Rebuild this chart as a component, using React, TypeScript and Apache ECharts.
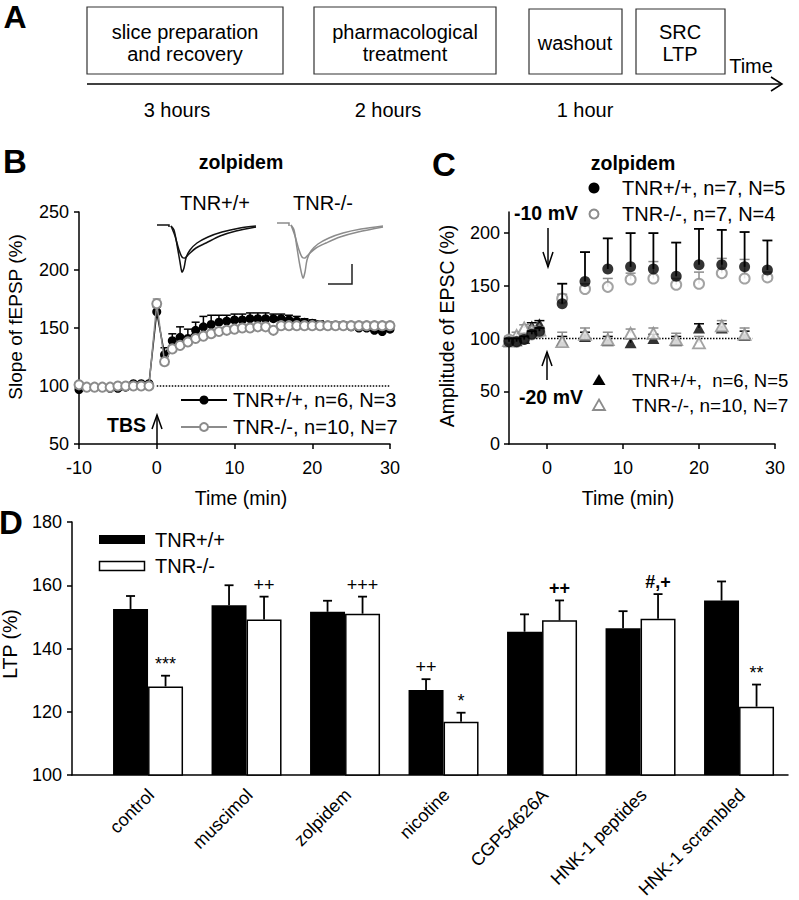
import React, { useEffect, useRef } from 'react';
import * as echarts from 'echarts';

const FONT = '"Liberation Sans", Arial, Helvetica, sans-serif';
const GREY = '#8c8c8c';

// ---------- Panel B : slope of fEPSP (%) vs time (min)
const bTime = [-10, -9, -8, -7, -6, -5, -4, -3, -2, -1, 0, 1, 2, 3, 4, 5, 6, 7, 8, 9, 10, 11, 12, 13, 14, 15, 16, 17, 18, 19, 20, 21, 22, 23, 24, 25, 26, 27, 28, 29, 30];
const bWT = [97, 99, 99, 99, 98, 98, 99, 102, 102, 102, 164, 127, 139, 142, 141, 148, 151, 153, 155, 156, 157, 157, 158, 158, 158, 158, 158, 157, 156, 155, 154, 153, 152, 152, 152, 151, 150, 150, 148, 147, 149];
const bWTErr = [1, 1, 1, 1, 1, 1, 1, 1, 1, 1, 4, 6, 6, 9, 8, 7, 9, 8, 6, 5, 5, 5, 5, 5, 5, 4, 4, 4, 4, 3, 3, 3, 3, 3, 3, 3, 3, 3, 3, 3, 3];
const bKO = [101, 99, 99, 99, 99, 100, 100, 100, 100, 100, 171, 121, 132, 135, 138, 141, 143, 145, 147, 148, 149, 150, 150, 151, 151, 148, 152, 152, 152, 152, 152, 152, 152, 152, 152, 152, 152, 152, 152, 152, 152];
const bKOErr = [1, 1, 1, 1, 1, 1, 1, 1, 1, 1, 4, 4, 3, 3, 3, 3, 3, 3, 3, 3, 3, 3, 3, 3, 3, 3, 3, 3, 3, 3, 3, 3, 3, 3, 3, 3, 3, 3, 3, 3, 3];

// ---------- Panel C : amplitude of EPSC (%) vs time (min)
const cTimeBase = [-5, -4, -3, -2, -1];
const cTimeCircle = [2, 5, 8, 11, 14, 17, 20, 23, 26, 29];
const cTimeTri = [2, 5, 8, 11, 14, 17, 20, 23, 26];
const cWT10Base = [97, 97, 99, 104, 107];
const cKO10Base = [99, 97, 100, 104, 106];
const cWT10 = [133, 154, 166, 168, 166, 159, 170, 170, 168, 165];
const cWT10Err = [19, 28, 29, 32, 34, 32, 34, 33, 33, 28];
const cKO10 = [138, 147, 149, 156, 157, 151, 152, 162, 157, 158];
const cKO10Err = [4, 5, 8, 6, 16, 6, 11, 14, 18, 5];
const cWT20Base = [97, 98, 100, 112, 114];
const cKO20Base = [98, 103, 110, 108, 108];
const cWT20 = [98, 102, 98, 96, 100, 98, 110, 110, 103];
const cWT20Err = [4, 4, 4, 4, 4, 4, 4, 4, 4];
const cKO20 = [97, 104, 99, 105, 105, 99, 96, 112, 104];
const cKO20Err = [9, 6, 7, 4, 5, 6, 6, 5, 6];
const cBaseErr = [3, 3, 3, 3, 3];

// ---------- Panel D : LTP (%)
const dCategories = ['control', 'muscimol', 'zolpidem', 'nicotine', 'CGP54626A', 'HNK-1 peptides', 'HNK-1 scrambled'];
const dWT = [152.5, 153.7, 151.6, 126.9, 145.3, 146.4, 155.2];
const dWTErr = [4.1, 6.3, 3.5, 3.4, 5.5, 5.4, 6.0];
const dKO = [128.0, 149.2, 151.0, 116.8, 148.9, 149.4, 121.6];
const dKOErr = [3.4, 7.2, 5.4, 2.9, 6.3, 7.8, 7.0];
const dSigWT = ['', '', '', '++', '', '', ''];
const dSigKO = ['***', '++', '+++', '*', '++', '#,+', '**'];
const dSigKOBold = [false, false, false, false, true, true, false];

const BAR_W = 35;

const errorBars = (color: string, cap: number, lw: number, dx = 0) => (params: any, api: any) => {
  const x = api.value(0);
  const y = api.value(1);
  const e = api.value(2);
  const a = api.coord([x, y]);
  const b = api.coord([x, y + e]);
  return {
    type: 'group',
    children: [
      { type: 'line', shape: { x1: a[0] + dx, y1: a[1], x2: b[0] + dx, y2: b[1] }, style: { stroke: color, lineWidth: lw } },
      { type: 'line', shape: { x1: b[0] + dx - cap, y1: b[1], x2: b[0] + dx + cap, y2: b[1] }, style: { stroke: color, lineWidth: lw } },
    ],
  };
};

const sigText = (labels: string[], dx: number, bold?: boolean[]) => (params: any, api: any) => {
  const s = labels[params.dataIndex];
  if (!s) return null;
  const p = api.coord([api.value(0), api.value(1)]);
  return {
    type: 'text',
    x: p[0] + dx,
    y: p[1] - 3,
    style: {
      text: s, fontSize: 18, fontFamily: FONT, fill: '#000', align: 'center', verticalAlign: 'bottom',
      fontWeight: bold && bold[params.dataIndex] ? 'bold' : 'normal',
    },
  };
};

const categoryLabel = (params: any, api: any) => {
  const p = api.coord([api.value(0), api.value(1)]);
  return {
    type: 'text',
    x: p[0] + 3,
    y: p[1] + 17,
    rotation: Math.PI / 4,
    style: {
      text: dCategories[params.dataIndex], fontSize: 18, fontFamily: FONT, fill: '#000',
      align: 'right', verticalAlign: 'middle',
    },
  };
};

const txt = (text: string, x: number, y: number, o: any = {}) => ({
  type: 'text',
  x,
  y,
  rotation: o.rotation || 0,
  silent: true,
  z: 100,
  style: {
    text,
    fill: o.color || '#000',
    fontSize: o.size || 18,
    fontWeight: o.bold ? 'bold' : 'normal',
    fontFamily: FONT,
    align: o.align || 'center',
    verticalAlign: o.valign || 'middle',
  },
});
const ln = (x1: number, y1: number, x2: number, y2: number, color = '#000', w = 1.5) => ({
  type: 'line', silent: true, z: 100, shape: { x1, y1, x2, y2 }, style: { stroke: color, lineWidth: w },
});
const pl = (points: number[][], color: string, w: number, smooth = 0) => ({
  type: 'polyline', silent: true, z: 100, shape: { points, smooth }, style: { stroke: color, lineWidth: w, fill: null },
});
const box = (x: number, y: number, w: number, h: number) => ({
  type: 'rect', silent: true, z: 100, shape: { x, y, width: w, height: h }, style: { fill: '#fff', stroke: '#333', lineWidth: 1.2 },
});

const axisStyle = (extra: any = {}) => ({
  axisLine: { show: true, onZero: false, lineStyle: { color: '#000', width: 1.5 } },
  axisTick: { show: true, inside: false, length: 5, lineStyle: { color: '#000', width: 1.5 }, ...(extra.axisTick || {}) },
  axisLabel: { color: '#000', fontSize: 18, fontFamily: FONT, ...(extra.axisLabel || {}) },
  splitLine: { show: false },
});

const join = (a: number[], b: number[]) => a.concat(b);

export default function App() {
  const ref = useRef<HTMLDivElement>(null);
  useEffect(() => {
    document.body.style.margin = '0';
    if (!ref.current) return;
    const chart = echarts.init(ref.current, undefined, { renderer: 'svg' });

    const cC10T = join(cTimeBase, cTimeCircle);
    const cT20T = join(cTimeBase, cTimeTri);
    const wt10 = join(cWT10Base, cWT10);
    const wt10e = join(cBaseErr, cWT10Err);
    const ko10 = join(cKO10Base, cKO10);
    const ko10e = join(cBaseErr, cKO10Err);
    const wt20 = join(cWT20Base, cWT20);
    const wt20e = join(cBaseErr, cWT20Err);
    const ko20 = join(cKO20Base, cKO20);
    const ko20e = join(cBaseErr, cKO20Err);

    const graphics: any[] = [
      // panel letters
      txt('A', 15, 1, { size: 32, bold: true, valign: 'top' }),
      txt('B', 15, 161, { size: 33, bold: true }),
      txt('C', 444, 164, { size: 33, bold: true }),
      txt('D', 11, 522, { size: 33, bold: true }),
      // panel A timeline
      box(87, 7, 196, 67),
      box(314, 7, 182, 67),
      box(529, 9, 93, 65),
      box(636, 9, 89, 65),
      txt('slice preparation', 185, 32, { size: 20 }),
      txt('and recovery', 185, 54, { size: 20 }),
      txt('pharmacological', 405, 32, { size: 20 }),
      txt('treatment', 405, 54, { size: 20 }),
      txt('washout', 575, 43, { size: 20 }),
      txt('SRC', 680, 32, { size: 20 }),
      txt('LTP', 680, 54, { size: 20 }),
      txt('Time', 751, 66, { size: 20 }),
      ln(87, 84, 782, 84, '#000', 1.5),
      pl([[771, 77], [782, 84], [771, 91]], '#000', 1.5),
      txt('3 hours', 177, 110, { size: 20 }),
      txt('2 hours', 388, 110, { size: 20 }),
      txt('1 hour', 585, 110, { size: 20 }),
      // panel B annotations
      txt('zolpidem', 241, 162, { size: 19.5, bold: true }),
      txt('TNR+/+', 215, 203, { size: 20 }),
      txt('TNR-/-', 323, 203, { size: 20 }),
      pl([[157, 225], [169, 225], [169, 227]], '#111', 1.5),
      pl([[171, 226], [174, 230], [177, 245], [180, 262], [182, 272], [184, 268], [186, 258], [190, 250], [197, 243], [208, 237], [222, 232], [240, 228], [256, 226]], '#111', 1.5, 0.3),
      pl([[171, 226], [175, 236], [179, 250], [182, 257], [185, 258], [189, 254], [196, 248], [206, 243], [220, 236], [236, 231], [256, 227]], '#111', 1.5, 0.3),
      pl([[277, 223], [289, 223], [289, 226]], GREY, 1.5),
      pl([[291, 225], [294, 230], [297, 248], [300, 266], [303, 278], [305, 272], [307, 260], [311, 251], [318, 244], [329, 238], [343, 233], [361, 229], [383, 226]], GREY, 1.5, 0.3),
      pl([[291, 225], [295, 236], [299, 250], [302, 257], [305, 258], [309, 254], [316, 248], [326, 243], [340, 237], [358, 232], [383, 227]], GREY, 1.5, 0.3),
      pl([[328, 284], [352, 284], [352, 264]], '#222', 1.5),
      txt('TBS', 146, 425, { size: 19.5, bold: true, align: 'right' }),
      ln(157, 444, 157, 415, '#000', 1.5),
      pl([[152, 429], [157, 415], [162, 429]], '#000', 1.5),
      ln(181, 400, 227, 400, '#000', 2),
      { type: 'circle', z: 101, silent: true, shape: { cx: 204, cy: 400, r: 4.5 }, style: { fill: '#000' } },
      txt('TNR+/+, n=6, N=3', 233, 400, { size: 20, align: 'left' }),
      ln(181, 427, 227, 427, GREY, 2),
      { type: 'circle', z: 101, silent: true, shape: { cx: 204, cy: 427, r: 4 }, style: { fill: '#fff', stroke: GREY, lineWidth: 2 } },
      txt('TNR-/-, n=10, N=7', 233, 427, { size: 20, align: 'left' }),
      txt('Slope of fEPSP (%)', 15, 317, { size: 19, rotation: Math.PI / 2 }),
      txt('Time (min)', 241, 498, { size: 19.5 }),
      // panel C annotations
      txt('zolpidem', 633, 163, { size: 19.5, bold: true }),
      { type: 'circle', z: 101, silent: true, shape: { cx: 594, cy: 188, r: 5.5 }, style: { fill: '#000' } },
      txt('TNR+/+, n=7, N=5', 622, 188, { size: 20, align: 'left' }),
      { type: 'circle', z: 101, silent: true, shape: { cx: 594, cy: 214, r: 4.5 }, style: { fill: '#fff', stroke: GREY, lineWidth: 2 } },
      txt('TNR-/-, n=7, N=4', 622, 214, { size: 20, align: 'left' }),
      txt('-10 mV', 546, 213, { size: 19.5, bold: true }),
      ln(548, 228, 548, 267, '#000', 1.5),
      pl([[543, 252], [548, 267], [553, 252]], '#000', 1.5),
      txt('-20 mV', 551, 397, { size: 19.5, bold: true }),
      ln(547, 380, 547, 352, '#000', 1.5),
      pl([[542, 366], [547, 352], [552, 366]], '#000', 1.5),
      { type: 'polygon', z: 101, silent: true, shape: { points: [[599, 374], [605.5, 385], [592.5, 385]] }, style: { fill: '#000' } },
      txt('TNR+/+,  n=6, N=5', 632, 380, { size: 18.5, align: 'left' }),
      { type: 'polygon', z: 101, silent: true, shape: { points: [[599, 399.5], [605, 410], [593, 410]] }, style: { fill: '#fff', stroke: GREY, lineWidth: 1.8 } },
      txt('TNR-/-, n=10, N=7', 632, 405, { size: 19, align: 'left' }),
      txt('Amplitude of EPSC (%)', 447, 326, { size: 19.5, rotation: Math.PI / 2 }),
      txt('Time (min)', 628, 498, { size: 19.5 }),
      // panel D annotations
      { type: 'rect', z: 101, silent: true, shape: { x: 99, y: 535, width: 46, height: 9 }, style: { fill: '#000' } },
      txt('TNR+/+', 155, 540, { size: 20, align: 'left' }),
      { type: 'rect', z: 101, silent: true, shape: { x: 99.5, y: 561.5, width: 45, height: 9 }, style: { fill: '#fff', stroke: '#000', lineWidth: 1.5 } },
      txt('TNR-/-', 155, 566, { size: 20, align: 'left' }),
      txt('LTP (%)', 10, 644, { size: 19.5, rotation: Math.PI / 2 }),
    ];

    const option: any = {
      animation: false,
      backgroundColor: '#fff',
      textStyle: { fontFamily: FONT },
      grid: [
        { left: 79, top: 212, width: 311, height: 232, outerBoundsMode: 'none', containLabel: false },
        { left: 509, top: 212, width: 266, height: 232, outerBoundsMode: 'none', containLabel: false },
        { left: 72, top: 522, width: 716, height: 253, outerBoundsMode: 'none', containLabel: false },
      ],
      xAxis: [
        { gridIndex: 0, type: 'value', min: -10, max: 30, interval: 10, ...axisStyle({ axisLabel: { margin: 15 } }) },
        {
          gridIndex: 1, type: 'value', min: -5, max: 30,
          ...axisStyle({ axisTick: { customValues: [0, 10, 20, 30] }, axisLabel: { margin: 15, customValues: [0, 10, 20, 30] } }),
        },
        {
          gridIndex: 2, type: 'value', min: -0.772, max: 6.497,
          ...axisStyle({ axisTick: { show: false }, axisLabel: { show: false } }),
        },
      ],
      yAxis: [
        { gridIndex: 0, type: 'value', min: 50, max: 250, interval: 50, ...axisStyle({ axisLabel: { margin: 10 } }) },
        {
          gridIndex: 1, type: 'value', min: 0, max: 220,
          ...axisStyle({ axisTick: { customValues: [0, 50, 100, 150, 200] }, axisLabel: { margin: 9, customValues: [0, 50, 100, 150, 200] } }),
        },
        { gridIndex: 2, type: 'value', min: 100, max: 180, interval: 20, ...axisStyle({ axisLabel: { margin: 10 } }) },
      ],
      graphic: { elements: graphics },
      series: [
        // ---- B
        {
          type: 'line', xAxisIndex: 0, yAxisIndex: 0, data: [[0, 100], [30, 100]], symbol: 'none', silent: true, z: 1,
          lineStyle: { color: '#000', width: 1.5, type: 'dotted' },
        },
        {
          type: 'custom', xAxisIndex: 0, yAxisIndex: 0, z: 2, encode: { x: 0, y: 1 }, itemStyle: { color: '#000' },
          data: bTime.map((t, i) => [t, bWT[i], bWTErr[i]]), renderItem: errorBars('#000', 4, 1.5),
        },
        {
          type: 'custom', xAxisIndex: 0, yAxisIndex: 0, z: 2, encode: { x: 0, y: 1 }, itemStyle: { color: GREY },
          data: bTime.map((t, i) => [t, bKO[i], bKOErr[i]]), renderItem: errorBars(GREY, 4, 1.5),
        },
        {
          type: 'line', xAxisIndex: 0, yAxisIndex: 0, z: 3, data: bTime.map((t, i) => [t, bWT[i]]),
          symbol: 'circle', symbolSize: 9, itemStyle: { color: '#000' }, lineStyle: { color: '#000', width: 1.5 },
        },
        {
          type: 'line', xAxisIndex: 0, yAxisIndex: 0, z: 4, data: bTime.map((t, i) => [t, bKO[i]]),
          symbol: 'circle', symbolSize: 9, itemStyle: { color: '#fff', borderColor: GREY, borderWidth: 2 },
          lineStyle: { color: GREY, width: 1.5 },
        },
        // ---- C
        {
          type: 'line', xAxisIndex: 1, yAxisIndex: 1, data: [[-5, 100], [27, 100]], symbol: 'none', silent: true, z: 1,
          lineStyle: { color: '#000', width: 1.5, type: 'dotted' },
        },
        {
          type: 'custom', xAxisIndex: 1, yAxisIndex: 1, z: 2, encode: { x: 0, y: 1 }, itemStyle: { color: '#000' },
          data: cT20T.map((t, i) => [t, wt20[i], wt20e[i]]), renderItem: errorBars('#000', 5, 1.5),
        },
        {
          type: 'scatter', xAxisIndex: 1, yAxisIndex: 1, z: 3, data: cT20T.map((t, i) => [t, wt20[i]]),
          symbol: 'triangle', symbolSize: [12, 11], itemStyle: { color: '#000' },
        },
        {
          type: 'custom', xAxisIndex: 1, yAxisIndex: 1, z: 4, encode: { x: 0, y: 1 }, itemStyle: { color: GREY },
          data: cT20T.map((t, i) => [t, ko20[i], ko20e[i]]), renderItem: errorBars(GREY, 5, 1.5),
        },
        {
          type: 'scatter', xAxisIndex: 1, yAxisIndex: 1, z: 5, data: cT20T.map((t, i) => [t, ko20[i]]),
          symbol: 'triangle', symbolSize: [12, 11], itemStyle: { color: '#fff', borderColor: GREY, borderWidth: 1.8 },
        },
        {
          type: 'custom', xAxisIndex: 1, yAxisIndex: 1, z: 6, encode: { x: 0, y: 1 }, itemStyle: { color: GREY },
          data: cC10T.map((t, i) => [t, ko10[i], ko10e[i]]), renderItem: errorBars(GREY, 5, 1.5),
        },
        {
          type: 'scatter', xAxisIndex: 1, yAxisIndex: 1, z: 7, data: cC10T.map((t, i) => [t, ko10[i]]),
          symbol: 'circle', symbolSize: 10, itemStyle: { color: '#fff', borderColor: GREY, borderWidth: 2 },
        },
        {
          type: 'custom', xAxisIndex: 1, yAxisIndex: 1, z: 8, encode: { x: 0, y: 1 }, itemStyle: { color: '#000' },
          data: cC10T.map((t, i) => [t, wt10[i], wt10e[i]]), renderItem: errorBars('#000', 5, 1.8),
        },
        {
          type: 'scatter', xAxisIndex: 1, yAxisIndex: 1, z: 9, data: cC10T.map((t, i) => [t, wt10[i]]),
          symbol: 'circle', symbolSize: 11, itemStyle: { color: '#000' },
        },
        // ---- D
        {
          type: 'bar', xAxisIndex: 2, yAxisIndex: 2, z: 2, data: dWT.map((v, i) => [i, v]), barWidth: BAR_W, barGap: '0%',
          itemStyle: { color: '#000' }, clip: true,
        },
        {
          type: 'bar', xAxisIndex: 2, yAxisIndex: 2, z: 2, data: dKO.map((v, i) => [i, v]), barWidth: BAR_W, barGap: '0%',
          itemStyle: { color: '#fff', borderColor: '#000', borderWidth: 1.5 }, clip: true,
        },
        {
          type: 'custom', xAxisIndex: 2, yAxisIndex: 2, z: 3, encode: { x: 0, y: 1 }, itemStyle: { color: '#000' },
          data: dWT.map((v, i) => [i, v, dWTErr[i]]), renderItem: errorBars('#000', 4.5, 1.8, -BAR_W / 2),
        },
        {
          type: 'custom', xAxisIndex: 2, yAxisIndex: 2, z: 3, encode: { x: 0, y: 1 }, itemStyle: { color: '#000' },
          data: dKO.map((v, i) => [i, v, dKOErr[i]]), renderItem: errorBars('#000', 4.5, 1.8, BAR_W / 2),
        },
        {
          type: 'custom', xAxisIndex: 2, yAxisIndex: 2, z: 4, encode: { x: 0, y: 1 }, itemStyle: { color: '#000' },
          data: dWT.map((v, i) => [i, v + dWTErr[i]]), renderItem: sigText(dSigWT, -BAR_W / 2),
        },
        {
          type: 'custom', xAxisIndex: 2, yAxisIndex: 2, z: 4, encode: { x: 0, y: 1 }, itemStyle: { color: '#000' },
          data: dKO.map((v, i) => [i, v + dKOErr[i]]), renderItem: sigText(dSigKO, BAR_W / 2, dSigKOBold),
        },
        {
          type: 'custom', xAxisIndex: 2, yAxisIndex: 2, z: 4, encode: { x: 0, y: 1 }, itemStyle: { color: '#000' },
          clip: false,
          data: dCategories.map((_, i) => [i, 100]), renderItem: categoryLabel,
        },
      ],
    };
    chart.setOption(option);
    return () => chart.dispose();
  }, []);
  return <div ref={ref} style={{ width: 799, height: 900 }} />;
}
